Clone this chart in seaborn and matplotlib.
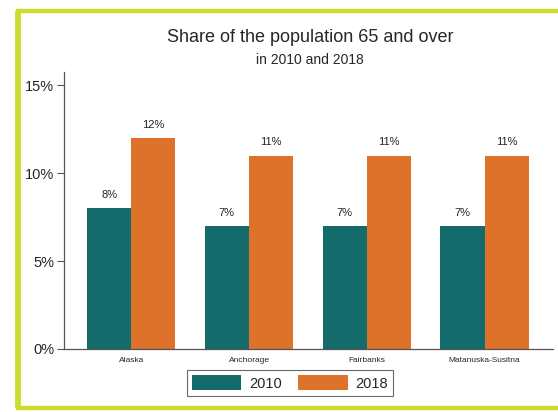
import pandas as pd
import matplotlib.pyplot as plt
import seaborn as sns
from matplotlib.lines import Line2D

areas = ['Alaska', 'Anchorage', 'Fairbanks', 'Matanuska-Susitna']
share_2010 = [8, 7, 7, 7]
share_2018 = [12, 11, 11, 11]
years = ['2010', '2018']

df = pd.DataFrame({
    'area': areas * 2,
    'year': [years[0]] * 4 + [years[1]] * 4,
    'share': share_2010 + share_2018,
})

sns.set_style('white')
plt.rcParams['font.family'] = ['Liberation Sans', 'DejaVu Sans']

fig = plt.figure(figsize=(5.58, 4.12), dpi=100)
ax = fig.add_axes([64 / 558, 1 - 349 / 412, (553 - 64) / 558, (349 - 72) / 412])

sns.barplot(data=df, x='area', y='share', hue='year', ax=ax,
            palette=['#136b6b', '#df722b'], width=0.75, saturation=1,
            edgecolor='none', linewidth=0)

for cont in ax.containers:
    ax.bar_label(cont, labels=[f'{v:.0f}%' for v in cont.datavalues],
                 padding=6, fontsize=8, color='#222222')

ax.set_ylim(0, 15.75)
ax.set_xlim(-0.57, 3.58)
ax.set_yticks([0, 5, 10, 15])
ax.set_yticklabels(['0%', '5%', '10%', '15%'], fontsize=10.5)
ax.tick_params(axis='x', labelsize=6, length=0, pad=6)
ax.tick_params(axis='y', length=5, width=0.8, color='#555555', left=True, pad=2)
ax.set_xlabel('')
ax.set_ylabel('')
for s in ['top', 'right']:
    ax.spines[s].set_visible(False)
for s in ['left', 'bottom']:
    ax.spines[s].set_color('#555555')
    ax.spines[s].set_linewidth(0.9)

handles, labels = ax.get_legend_handles_labels()
ax.legend(handles, labels, loc='center', bbox_to_anchor=(290 / 558, 1 - 383 / 412),
          bbox_transform=fig.transFigure, ncol=2, frameon=True, fancybox=False,
          edgecolor='#444444', fontsize=10.5, handlelength=3.4, handleheight=1.2,
          handletextpad=0.55, columnspacing=1.1, borderpad=0.35)
ax.get_legend().get_frame().set_linewidth(0.8)

fig.text(310 / 558, 1 - 38 / 412, 'Share of the population 65 and over',
         ha='center', va='center', fontsize=13)
fig.text(310 / 558, 1 - 60 / 412, 'in 2010 and 2018',
         ha='center', va='center', fontsize=10)

border = '#cddc2f'
fig.add_artist(Line2D([18 / 558, 18 / 558], [1 - 10.5 / 412, 1 - 408 / 412],
                      transform=fig.transFigure, color=border, lw=4.2, solid_capstyle='butt'))
fig.add_artist(Line2D([15.5 / 558, 1], [1 - 10.5 / 412, 1 - 10.5 / 412],
                      transform=fig.transFigure, color=border, lw=3.2, solid_capstyle='butt'))
fig.add_artist(Line2D([15.5 / 558, 1], [1 - 408 / 412, 1 - 408 / 412],
                      transform=fig.transFigure, color=border, lw=3.2, solid_capstyle='butt'))

fig.savefig('out.png', dpi=100)
